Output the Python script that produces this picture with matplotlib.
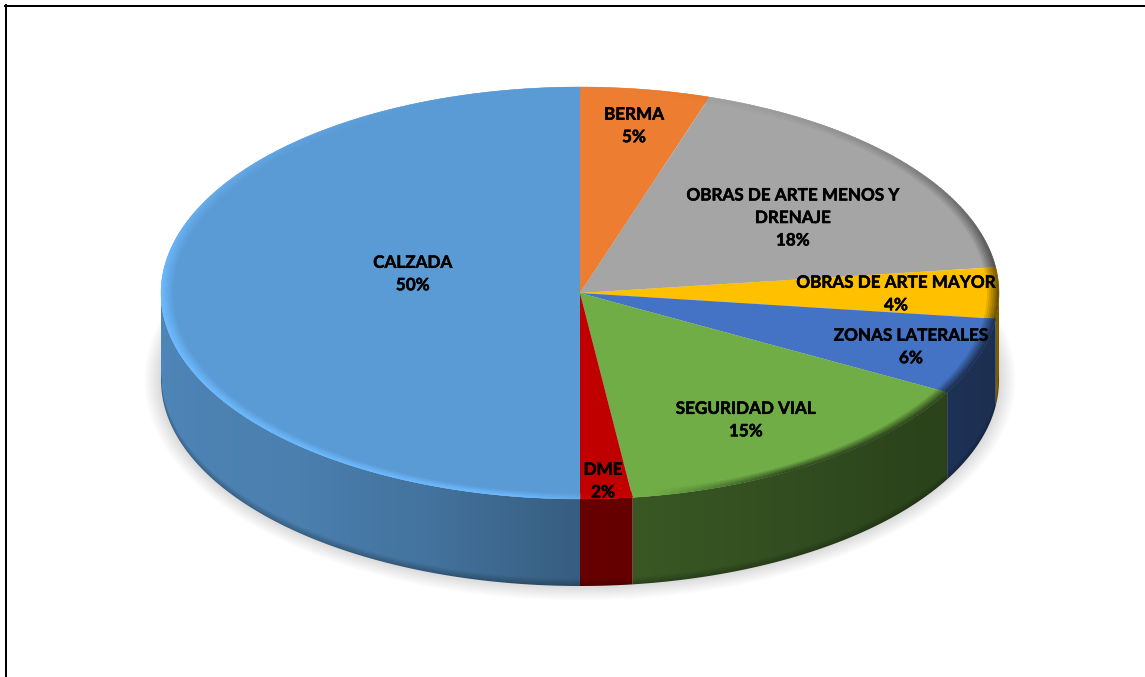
import numpy as np
import matplotlib
matplotlib.use('Agg')
import matplotlib.pyplot as plt
import matplotlib.patheffects as pe
from matplotlib.collections import PolyCollection
from matplotlib.colors import to_rgb
from matplotlib.lines import Line2D
from matplotlib.patches import Ellipse, Polygon

plt.rcParams['font.family'] = ['Lato', 'DejaVu Sans']

categories = ['BERMA', 'OBRAS DE ARTE MENOS Y\nDRENAJE', 'OBRAS DE ARTE MAYOR',
              'ZONAS LATERALES', 'SEGURIDAD VIAL', 'DME', 'CALZADA']
values = [5, 18, 4, 6, 15, 2, 50]
colors = ['#ED7D31', '#A5A5A5', '#FFC000', '#4472C4', '#70AD47', '#C00000', '#5B9BD5']
wall_gain = [1, 1, 1.2, 1, 0.88, 0.9, 1]

# label centres in pie units
label_x = [0.129, 0.508, 0.754, 0.79, 0.396, 0.055, -0.399]
label_y = [0.811, 0.364, -0.005, -0.262, -0.617, -0.913, 0.092]

W, H = 1145, 677
CX, CY = 580, 293      # pie centre, pixels
RX, RY = 419, 206      # top ellipse radii, pixels
DEPTH = 87 / RY        # wall height in y units


def rim_light(theta):
    # +1 lit edge, -1 shaded edge, fades out at the back of the pie
    t = np.radians(theta)
    h = np.clip(-np.cos(t - np.radians(10)) * 3, -1, 1)
    if np.sin(t) > 0:
        h *= 1 - np.sin(t)
    return h


fig = plt.figure(figsize=(W / 100, H / 100), dpi=100, facecolor='white')
ax = fig.add_axes([0, 0, 1, 1])

wedges, _ = ax.pie(values, colors=colors, startangle=90, counterclock=False,
                   radius=1, wedgeprops={'linewidth': 0})

# soft shadow under the disc
for k in range(1, 13):
    ax.add_patch(Ellipse((0, -DEPTH), 2 * (1 + k * 0.04 / 12), 2 * (1 + k * 0.07 / 12),
                         facecolor='black', alpha=0.012, linewidth=0, zorder=0))

# brightness of the wall over its area: darker to the right and along the bottom edge
gx = np.linspace(-1, 1, 2 * RX)
gy = np.linspace(-1 - DEPTH, 0, RY + 87)
X, Y = np.meshgrid(gx, gy)
wall_theta = 360 - np.degrees(np.arccos(X))
shade = np.interp(wall_theta, [180, 228, 249, 270, 320, 360], [0.87, 0.82, 0.74, 0.60, 0.45, 0.40])
bottom = -np.sqrt(1 - X ** 2) - DEPTH
shade = shade * (1 - 0.25 * np.clip(1 - (Y - bottom) / 0.035, 0, 1))

for wedge, col, gain in zip(wedges, colors, wall_gain):
    wedge.set_zorder(2)
    base = np.array(to_rgb(col))
    th = np.linspace(wedge.theta1, wedge.theta2, int(abs(wedge.theta2 - wedge.theta1)) * 2 + 2)

    # outer wall, front half only
    front = th[np.sin(np.radians(th)) <= 0]
    if len(front) > 1:
        rim = np.column_stack([np.cos(np.radians(front)), np.sin(np.radians(front))])
        outline = np.vstack([rim, rim[::-1] - [0, DEPTH]])
        clip = Polygon(outline, closed=True, transform=ax.transData)
        img = ax.imshow(np.clip(shade[..., None] * base * gain, 0, 1), origin='lower', aspect='auto',
                        extent=(-1, 1, -1 - DEPTH, 0), interpolation='bilinear', zorder=1)
        img.set_clip_path(clip)

    # bevel along the top edge
    bands = np.linspace(0.972, 1.0, 7)
    polys, fc = [], []
    for r0, r1 in zip(bands[:-1], bands[1:]):
        amount = (r1 - bands[0]) / (bands[-1] - bands[0])
        for a, b in zip(th[:-1], th[1:]):
            h = rim_light((a + b) / 2)
            ca, sa = np.cos(np.radians(a)), np.sin(np.radians(a))
            cb, sb = np.cos(np.radians(b)), np.sin(np.radians(b))
            polys.append([(r0 * ca, r0 * sa), (r1 * ca, r1 * sa), (r1 * cb, r1 * sb), (r0 * cb, r0 * sb)])
            target = np.clip(base * 1.2, 0, 1) if h >= 0 else base * 0.42
            fc.append(base + (target - base) * abs(h) * amount)
    ax.add_collection(PolyCollection(polys, facecolors=fc, edgecolors='face',
                                     linewidths=0.3, zorder=3))

for name, val, x, y in zip(categories, values, label_x, label_y):
    ax.text(x, y, f'{name}\n{val}%', ha='center', va='center', fontsize=12.3,
            fontweight='bold', color='black', linespacing=1.5, zorder=5,
            path_effects=[pe.withStroke(linewidth=0.35, foreground='black')])

ax.set_aspect('auto')
ax.set_xlim(-CX / RX, (W - CX) / RX)
ax.set_ylim(-(H - CY) / RY, CY / RY)
ax.axis('off')

# frame on the top and left only
fig.add_artist(Line2D([5.5 / W, 5.5 / W], [0, 1 - 5 / H], color='black', linewidth=1.44))
fig.add_artist(Line2D([5 / W, 1], [1 - 5.5 / H, 1 - 5.5 / H], color='black', linewidth=1.44))

fig.savefig('out.png', dpi=100)
